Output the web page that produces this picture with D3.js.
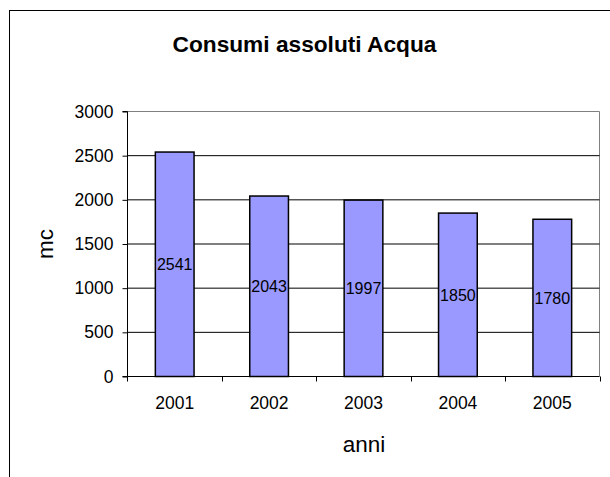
<!DOCTYPE html>
<html>
<head>
<meta charset="utf-8">
<script src="https://cdn.jsdelivr.net/npm/d3@7"></script>
<style>
  html, body { margin: 0; padding: 0; background: #fff; }
  svg { display: block; font-family: "Liberation Sans", Arial, Helvetica, sans-serif; }
</style>
</head>
<body>
<svg id="chart" width="610" height="477"></svg>
<script>
// Annual absolute water consumption (cubic metres)
const years = ["2001", "2002", "2003", "2004", "2005"];
const consumption = [2541, 2043, 1997, 1850, 1780];
const yTicks = [0, 500, 1000, 1500, 2000, 2500, 3000];

const svg = d3.select("#chart");

// Outer chart frame
svg.append("rect")
  .attr("x", 9.5).attr("y", 10.5)
  .attr("width", 640).attr("height", 520)
  .attr("fill", "#fff").attr("stroke", "#000").attr("stroke-width", 1);

const plot = { left: 127.5, right: 599.5, top: 111.5, bottom: 376.5 };

const x = d3.scaleBand()
  .domain(years)
  .range([plot.left, plot.right])
  .paddingInner(0.59)
  .paddingOuter(0.295);

const y = d3.scaleLinear()
  .domain([0, 3000])
  .range([plot.bottom, plot.top]);

// Title
svg.append("text")
  .attr("x", 304.5).attr("y", 52)
  .attr("text-anchor", "middle")
  .attr("font-size", 22.7).attr("font-weight", "bold")
  .text("Consumi assoluti Acqua");

// Plot area border (top and right)
svg.append("path")
  .attr("d", `M${plot.left},${plot.top}H${plot.right}V${plot.bottom}`)
  .attr("fill", "none").attr("stroke", "#808080").attr("stroke-width", 1);

// Horizontal gridlines
svg.append("g")
  .selectAll("line")
  .data(yTicks.filter(t => t > 0 && t < 3000))
  .join("line")
  .attr("x1", plot.left).attr("x2", plot.right)
  .attr("y1", d => y(d)).attr("y2", d => y(d))
  .attr("stroke", "#000").attr("stroke-width", 1);

// Bars
svg.append("g")
  .selectAll("rect")
  .data(years.map((yr, i) => ({ yr, v: consumption[i] })))
  .join("rect")
  .attr("x", d => x(d.yr))
  .attr("y", d => y(d.v))
  .attr("width", x.bandwidth())
  .attr("height", d => y(0) - y(d.v))
  .attr("fill", "#9999FF")
  .attr("stroke", "#000").attr("stroke-width", 1.5);

// Value labels at bar mid-height
svg.append("g")
  .selectAll("text")
  .data(years.map((yr, i) => ({ yr, v: consumption[i] })))
  .join("text")
  .attr("x", d => x(d.yr) + x.bandwidth() / 2)
  .attr("y", d => y(d.v / 2))
  .attr("dy", "0.36em")
  .attr("text-anchor", "middle")
  .attr("font-size", 16)
  .text(d => d.v);

// Y axis
const yAxis = d3.axisLeft(y)
  .tickValues(yTicks)
  .tickSize(5)
  .tickPadding(9)
  .tickFormat(d3.format("d"));
const gy = svg.append("g")
  .attr("transform", `translate(${plot.left},0)`)
  .call(yAxis);
gy.select(".domain").attr("stroke", "#000").attr("d", `M-5,${plot.top}H0V${plot.bottom}H-5`);
gy.selectAll(".tick line").attr("stroke", "#000");
gy.selectAll(".tick text")
  .attr("font-size", 17.5).attr("fill", "#000")
  .attr("font-family", "Liberation Sans, Arial, sans-serif");

// X axis: ticks at category boundaries
const boundaries = years.map(yr => x(yr) - x.step() * x.paddingInner() / 2).concat([plot.right]);
const gx = svg.append("g");
gx.append("line")
  .attr("x1", plot.left).attr("x2", plot.right)
  .attr("y1", plot.bottom).attr("y2", plot.bottom)
  .attr("stroke", "#000");
gx.selectAll("line.tick")
  .data(boundaries)
  .join("line")
  .attr("class", "tick")
  .attr("x1", d => Math.round(d) + 0.5).attr("x2", d => Math.round(d) + 0.5)
  .attr("y1", plot.bottom).attr("y2", plot.bottom + 5)
  .attr("stroke", "#000");
gx.selectAll("text")
  .data(years)
  .join("text")
  .attr("x", d => x(d) + x.bandwidth() / 2)
  .attr("y", 408.5)
  .attr("text-anchor", "middle")
  .attr("font-size", 17.5)
  .text(d => d);

// Axis titles
svg.append("text")
  .attr("x", 364).attr("y", 452)
  .attr("text-anchor", "middle")
  .attr("font-size", 22.5)
  .text("anni");

svg.append("text")
  .attr("transform", `translate(53,${(plot.top + plot.bottom) / 2}) rotate(-90)`)
  .attr("text-anchor", "middle")
  .attr("font-size", 22.5)
  .text("mc");
</script>
</body>
</html>
